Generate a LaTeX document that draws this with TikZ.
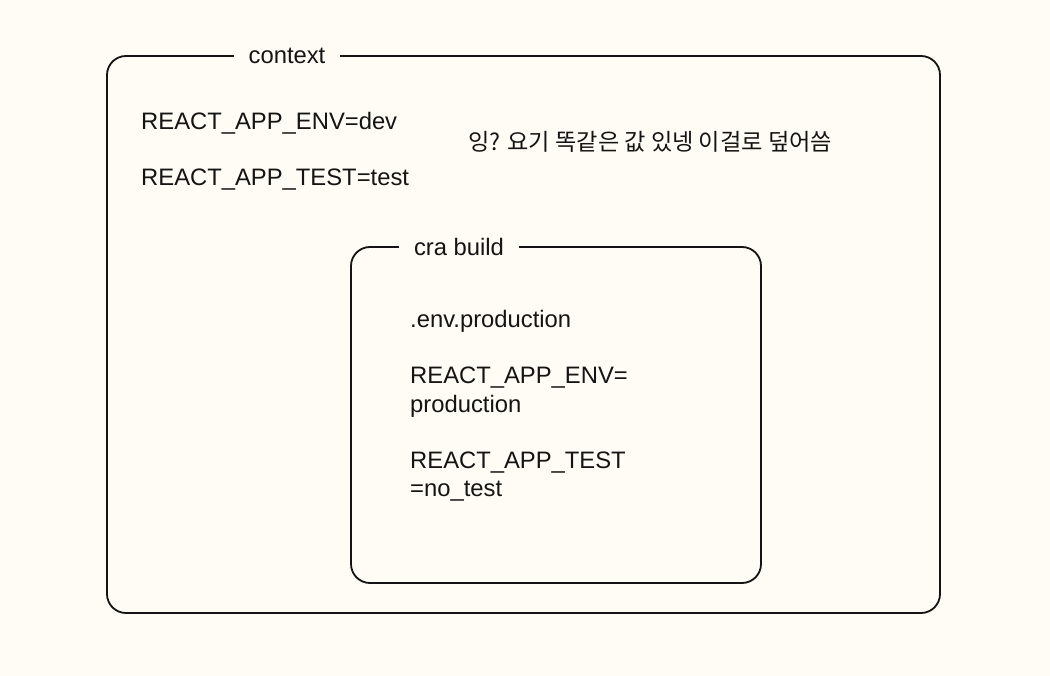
\documentclass[tikz,border=0pt]{standalone}
\usepackage{fontspec}
\setmainfont{Liberation Sans}
\newfontfamily\krfont{Noto Sans CJK KR}
\definecolor{bg}{RGB}{255,252,245}
\definecolor{ink}{RGB}{20,20,20}
\tikzset{
  frame/.style={draw=ink, line width=1.8pt, rounded corners=19pt},
  txt/.style={inner sep=0pt, anchor=base west, text=ink, font=\fontsize{23.8}{28}\selectfont},
  title/.style={inner sep=0pt, inner xsep=15pt, anchor=base, fill=bg, text=ink, font=\fontsize{23.8}{28}\selectfont},
  kr/.style={inner sep=0pt, anchor=base west, text=ink, font=\krfont\fontsize{23.2}{28}\selectfont}
}
\begin{document}
\begin{tikzpicture}[x=1pt,y=-1pt]
\fill[bg] (0,0) rectangle (1050,676);
\useasboundingbox (0,0) rectangle (1050,676);
% outer context box
\draw[frame] (107,56) rectangle (940,613);
\node[title] (ctxtitle) at (287,64) {context};
\node[txt] (env1) at (141,130) {REACT\_APP\_ENV=dev};
\node[txt] (test1) at (141,186) {REACT\_APP\_TEST=test};
\node[kr] (note) at (468,151) {잉? 요기 똑같은 값 있넹 이걸로 덮어씀};
% inner cra build box
\draw[frame] (351,247) rectangle (761,583);
\node[title] (cratitle) at (459,256) {cra build};
\node[txt] (file) at (410,328) {.env.production};
\node[txt] (env2a) at (410,384) {REACT\_APP\_ENV=};
\node[txt] (env2b) at (410,412) {production};
\node[txt] (test2a) at (410,468) {REACT\_APP\_TEST};
\node[txt] (test2b) at (410,496) {=no\_test};
\end{tikzpicture}
\end{document}
